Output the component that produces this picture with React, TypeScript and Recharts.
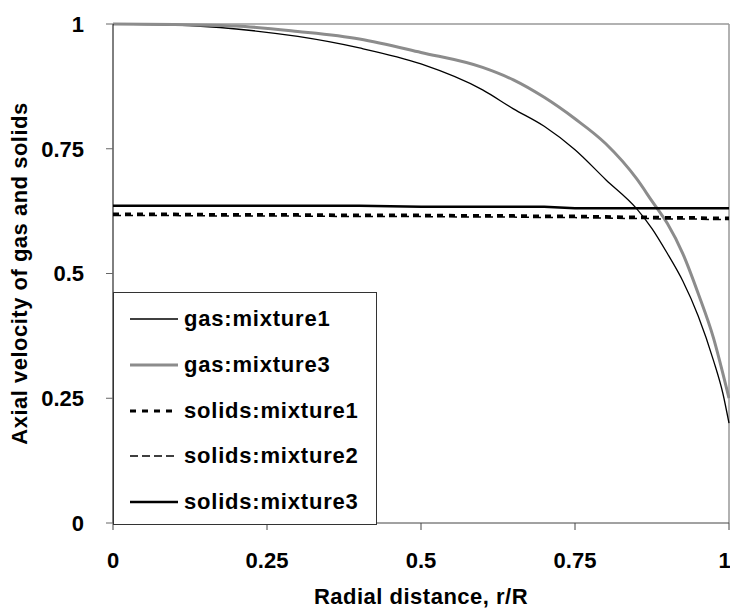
import { LineChart, Line, XAxis, YAxis, Legend, ReferenceLine } from "recharts";

// radial position r/R
const radius = [0, 0.1, 0.2, 0.3, 0.4, 0.5, 0.6, 0.65, 0.7, 0.75, 0.8, 0.85, 0.875, 0.9, 0.925, 0.95, 0.975, 0.99, 1];

const gasMixture1 = [1, 0.998, 0.99, 0.975, 0.952, 0.92, 0.868, 0.83, 0.795, 0.748, 0.688, 0.63, 0.59, 0.54, 0.485, 0.415, 0.325, 0.26, 0.2];
const gasMixture3 = [1, 0.999, 0.996, 0.985, 0.97, 0.943, 0.913, 0.888, 0.853, 0.81, 0.76, 0.69, 0.645, 0.6, 0.54, 0.46, 0.37, 0.3, 0.25];
const solidsMixture1 = [0.619, 0.619, 0.618, 0.618, 0.617, 0.617, 0.616, 0.616, 0.615, 0.615, 0.614, 0.613, 0.613, 0.612, 0.612, 0.612, 0.611, 0.611, 0.611];
const solidsMixture2 = [0.616, 0.616, 0.615, 0.615, 0.614, 0.614, 0.613, 0.613, 0.612, 0.612, 0.611, 0.61, 0.61, 0.609, 0.609, 0.609, 0.608, 0.608, 0.608];
const solidsMixture3 = [0.636, 0.636, 0.636, 0.636, 0.636, 0.634, 0.634, 0.634, 0.634, 0.631, 0.631, 0.631, 0.631, 0.631, 0.631, 0.631, 0.631, 0.631, 0.631];

const ticks = [0, 0.25, 0.5, 0.75, 1];

const data = radius.map((r, i) => ({
  r,
  gas1: gasMixture1[i],
  gas3: gasMixture3[i],
  solids1: solidsMixture1[i],
  solids2: solidsMixture2[i],
  solids3: solidsMixture3[i],
}));

const font = "'Liberation Sans', Arial, sans-serif";

const series = [
  { key: "gas1", name: "gas:mixture1", color: "#000", width: 1.3, dash: undefined },
  { key: "gas3", name: "gas:mixture3", color: "#8c8c8c", width: 3, dash: undefined },
  { key: "solids1", name: "solids:mixture1", color: "#000", width: 3, dash: "6 6" },
  { key: "solids2", name: "solids:mixture2", color: "#000", width: 1.5, dash: "8 4" },
  { key: "solids3", name: "solids:mixture3", color: "#000", width: 2.5, dash: undefined },
];

const rowTops = [26, 72, 118, 163, 209];

function LegendBox() {
  return (
    <div
      style={{
        position: "relative",
        width: 264,
        height: 233,
        boxSizing: "border-box",
        border: "1px solid #333",
        background: "#fff",
      }}
    >
      {series.map((s, i) => (
        <div key={s.key} style={{ position: "absolute", left: 16, top: rowTops[i] - 12, height: 24 }}>
          <svg width={50} height={24} style={{ position: "absolute", left: 0, top: 0 }}>
            <line
              x1={0}
              y1={12}
              x2={48}
              y2={12}
              stroke={s.color}
              strokeWidth={s.key === "gas1" ? 1.6 : s.width}
              strokeDasharray={s.dash}
            />
          </svg>
          <span
            style={{
              position: "absolute",
              left: 54,
              top: 0,
              lineHeight: "24px",
              whiteSpace: "nowrap",
              fontFamily: font,
              fontWeight: "bold",
              fontSize: 22,
              letterSpacing: 0.8,
              color: "#000",
            }}
          >
            {s.name}
          </span>
        </div>
      ))}
    </div>
  );
}

export default function App() {
  return (
    <div style={{ position: "absolute", left: 0, top: 0, background: "#fff" }}>
      <LineChart width={730} height={611} data={data} margin={{ top: 24, right: 1, bottom: 0, left: 0 }}>
        <XAxis
          dataKey="r"
          type="number"
          domain={[0, 1]}
          ticks={ticks}
          height={88}
          stroke="#444"
          tickSize={7}
          tickMargin={22}
          tick={{ fill: "#000", fontFamily: font, fontWeight: "bold", fontSize: 22 }}
          label={{
            value: "Radial distance, r/R",
            position: "insideBottom",
            offset: 7,
            style: { fill: "#000", fontFamily: font, fontWeight: "bold", fontSize: 22, letterSpacing: 0.5 },
          }}
        />
        <YAxis
          type="number"
          domain={[0, 1]}
          ticks={ticks}
          width={113}
          stroke="#000"
          tickLine={{ stroke: "#666" }}
          tickSize={7}
          tickMargin={22}
          tick={{ fill: "#000", fontFamily: font, fontWeight: "bold", fontSize: 22 }}
          label={{
            value: "Axial velocity of gas and solids",
            angle: -90,
            position: "insideLeft",
            offset: 19,
            style: { textAnchor: "middle", fill: "#000", fontFamily: font, fontWeight: "bold", fontSize: 22, letterSpacing: 0.5 },
          }}
        />
        <ReferenceLine y={1} stroke="#999" strokeWidth={1.5} />
        <ReferenceLine x={1} stroke="#999" strokeWidth={1.5} />
        {series.map((s) => (
          <Line
            key={s.key}
            dataKey={s.key}
            name={s.name}
            type={s.key.startsWith("gas") ? "monotone" : "linear"}
            stroke={s.color}
            strokeWidth={s.width}
            strokeDasharray={s.dash}
            dot={false}
            isAnimationActive={false}
          />
        ))}
        <Legend
          layout="vertical"
          align="center"
          verticalAlign="middle"
          wrapperStyle={{ left: 113, top: 292, width: 264, height: 233 }}
          content={() => <LegendBox />}
        />
      </LineChart>
    </div>
  );
}
